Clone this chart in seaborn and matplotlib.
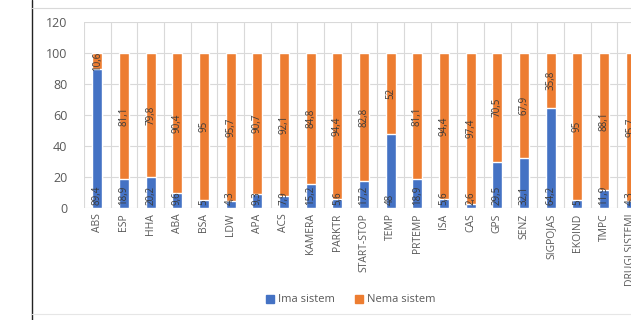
import numpy as np
import pandas as pd
import matplotlib
matplotlib.use('Agg')
import matplotlib.pyplot as plt
from matplotlib.lines import Line2D
from matplotlib.patches import Patch
import seaborn as sns

sns.set_style("white")
plt.rcParams['font.family'] = ['Open Sans', 'DejaVu Sans']

# data (percent)
sistemi = ['ABS', 'ESP', 'HHA', 'ABA', 'BSA', 'LDW', 'APA', 'ACS', 'KAMERA',
           'PARKTR', 'START-STOP', 'TEMP', 'PRTEMP', 'ISA', 'CAS', 'GPS',
           'SENZ', 'SIGPOJAS', 'EKOIND', 'TMPC', 'DRUGI SISTEMI']
ima = [89.4, 18.9, 20.2, 9.6, 5, 4.3, 9.3, 7.9, 15.2, 5.6, 17.2, 48, 18.9,
       5.6, 2.6, 29.5, 32.1, 64.2, 5, 11.9, 4.3]
nema = [10.6, 81.1, 79.8, 90.4, 95, 95.7, 90.7, 92.1, 84.8, 94.4, 82.8, 52,
        81.1, 94.4, 97.4, 70.5, 67.9, 35.8, 95, 88.1, 95.7]

blue = '#4472C4'
orange = '#ED7D31'
txt_gray = '#595959'

df = pd.DataFrame({'sistem': sistemi, 'ima': ima, 'nema': nema})
df['ukupno'] = df['ima'] + df['nema']

fig = plt.figure(figsize=(6.31, 3.20), dpi=100)
# plot area runs off the right edge like the cropped original
ax = fig.add_axes([84 / 631, 1 - 208 / 320, 560 / 631, 186 / 320])

sns.barplot(data=df, x='sistem', y='ukupno', color=orange, width=0.38,
            saturation=1, ax=ax)
sns.barplot(data=df, x='sistem', y='ima', color=blue, width=0.38,
            saturation=1, ax=ax)


def fmt(v):
    s = f'{v:g}'
    return s.replace('.', ',')


# blue labels sit at the bar base, orange ones in the middle of the segment
for i, (a, n) in enumerate(zip(ima, nema)):
    ax.text(i, 2, fmt(a), rotation=90, ha='center', va='bottom',
            fontsize=7, color='#3a3a3a')
    ax.text(i, a + n / 2, fmt(n), rotation=90, ha='center', va='center',
            fontsize=7, color='#3a3a3a')

ax.set_ylim(0, 120)
ax.set_xlim(-0.5, len(sistemi) - 0.5)
ax.set_yticks(range(0, 121, 20))
ax.set_xticks(np.arange(-0.5, len(sistemi), 1), minor=True)
ax.grid(axis='y', color='#d9d9d9', lw=0.8)
ax.grid(axis='x', which='minor', color='#d9d9d9', lw=0.8)
ax.grid(axis='x', which='major', visible=False)
ax.set_axisbelow(True)
for s in ax.spines.values():
    s.set_visible(False)
ax.set_xlabel('')
ax.set_ylabel('')
ax.tick_params(axis='x', which='both', length=0, labelsize=7.5,
               labelcolor=txt_gray, rotation=90, pad=4)
ax.tick_params(axis='y', length=0, labelsize=9, labelcolor=txt_gray, pad=12)

handles = [Patch(color=blue, label='Ima sistem'),
           Patch(color=orange, label='Nema sistem')]
fig.legend(handles=handles, loc='center', bbox_to_anchor=(351 / 631, 1 - 300 / 320),
           ncol=2, frameon=False, fontsize=8, labelcolor=txt_gray,
           handlelength=0.7, handleheight=0.7, handletextpad=0.4, columnspacing=1.8)

# frame of the embedded chart
fig.add_artist(Line2D([32 / 631, 32 / 631], [0, 1], color='#222222', lw=1.0))
fig.add_artist(Line2D([32 / 631, 1], [1 - 8 / 320, 1 - 8 / 320], color='#d9d9d9', lw=0.8))
fig.add_artist(Line2D([32 / 631, 1], [1 - 314 / 320, 1 - 314 / 320], color='#e6e6e6', lw=0.8))

fig.savefig('out.png', dpi=100)
